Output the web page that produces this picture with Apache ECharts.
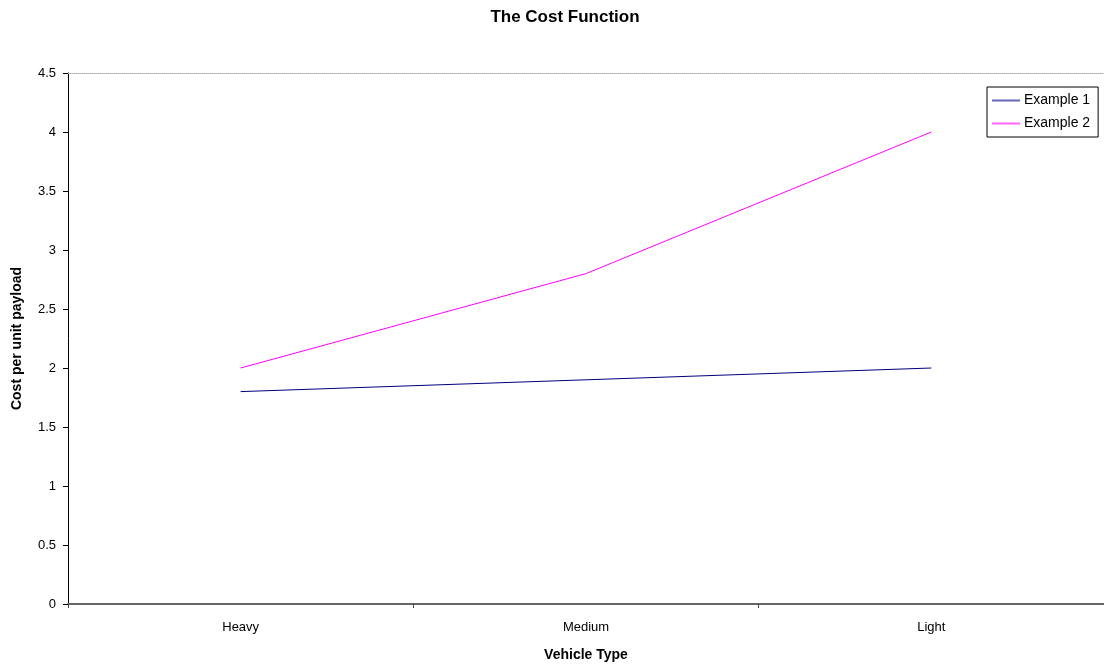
<!DOCTYPE html>
<html>
<head>
<meta charset="utf-8">
<script src="https://cdn.jsdelivr.net/npm/echarts@6/dist/echarts.min.js"></script>
<style>
  html, body { margin: 0; padding: 0; background: #fff; }
  #chart { width: 1104px; height: 666px; }
</style>
</head>
<body>
<div id="chart"></div>
<script>
// Vehicle classes on the horizontal axis
const categories = ['Heavy', 'Medium', 'Light'];
// Cost per unit payload for each example
const example1 = [1.8, 1.9, 2.0];
const example2 = [2.0, 2.8, 4.0];
// Value axis range
const yMin = 0;
const yMax = 4.5;
const yStep = 0.5;

const font = 'Liberation Sans, Arial, sans-serif';

const chart = echarts.init(document.getElementById('chart'), null, { renderer: 'canvas' });

chart.setOption({
  animation: false,
  backgroundColor: '#ffffff',
  title: {
    text: 'The Cost Function',
    left: 560,
    textAlign: 'center',
    top: 4,
    textStyle: { fontFamily: font, fontSize: 17, fontWeight: 'bold', color: '#000' }
  },
  legend: {
    orient: 'vertical',
    left: 987,
    top: 87,
    itemWidth: 28,
    itemHeight: 2,
    itemGap: 8,
    padding: [6, 8, 6, 5],
    borderColor: '#000',
    borderWidth: 1,
    icon: 'rect',
    textStyle: { fontFamily: font, fontSize: 14, lineHeight: 15, color: '#000', padding: [0, 0, 0, -1] },
    data: [
      { name: 'Example 1', itemStyle: { color: '#6666b3' } },
      { name: 'Example 2', itemStyle: { color: '#ff66ff' } }
    ]
  },
  grid: { left: 68, right: 0, top: 73, bottom: 62, containLabel: false, outerBoundsMode: 'none' },
  xAxis: [
    {
      type: 'category',
      data: categories,
      boundaryGap: true,
      name: 'Vehicle Type',
      nameLocation: 'middle',
      nameGap: 44,
      nameTextStyle: { fontFamily: font, fontSize: 14, fontWeight: 'bold', color: '#000' },
      axisLine: { lineStyle: { color: '#666', width: 2 } },
      axisTick: { show: true, length: 4, alignWithLabel: false, lineStyle: { color: '#444' } },
      axisLabel: { fontFamily: font, fontSize: 13, color: '#000', margin: 17 },
      splitLine: { show: false }
    },
    {
      // top edge of the plot area
      type: 'category',
      position: 'top',
      data: categories,
      axisLine: { lineStyle: { color: '#aaa', width: 1, type: [1, 1] } },
      axisTick: { show: false },
      axisLabel: { show: false },
      splitLine: { show: false }
    }
  ],
  yAxis: {
    type: 'value',
    min: yMin,
    max: yMax,
    interval: yStep,
    name: 'Cost per unit payload',
    nameLocation: 'middle',
    nameGap: 44,
    nameRotate: 90,
    nameTextStyle: { fontFamily: font, fontSize: 14, fontWeight: 'bold', color: '#000' },
    axisLine: { show: true, lineStyle: { color: '#000', width: 1 } },
    axisTick: { show: true, length: 5, lineStyle: { color: '#000' } },
    axisLabel: { fontFamily: font, fontSize: 13, color: '#000', margin: 12 },
    splitLine: { show: false }
  },
  series: [
    {
      name: 'Example 1',
      type: 'line',
      data: example1,
      symbol: 'none',
      lineStyle: { color: '#000080', width: 1 },
      itemStyle: { color: '#000080' }
    },
    {
      name: 'Example 2',
      type: 'line',
      data: example2,
      symbol: 'none',
      lineStyle: { color: '#ff00ff', width: 1 },
      itemStyle: { color: '#ff00ff' }
    }
  ]
});
</script>
</body>
</html>
